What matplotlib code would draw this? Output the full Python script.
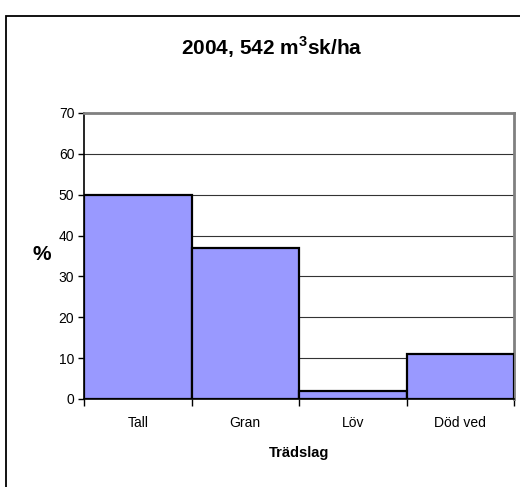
import matplotlib
matplotlib.use("Agg")
import matplotlib.pyplot as plt
from matplotlib.patches import Rectangle

plt.rcParams['font.family'] = ['Liberation Sans', 'DejaVu Sans']
plt.rcParams['mathtext.fontset'] = 'custom'
plt.rcParams['mathtext.rm'] = 'Liberation Sans'
plt.rcParams['mathtext.bf'] = 'Liberation Sans:bold'

categories = ["Tall", "Gran", "Löv", "Död ved"]
shares = [50, 37, 2, 11]
yticks = [0, 10, 20, 30, 40, 50, 60, 70]

fig = plt.figure(figsize=(5.2, 4.87), dpi=100)
ax = fig.add_axes([84/520, 1-399/487, 430/520, 286/487])

x = list(range(len(categories)))
ax.bar(x, shares, width=1.0, color="#9999FF", edgecolor="black",
       linewidth=1.6, zorder=3)

ax.set_xlim(-0.5, len(categories) - 0.5)
ax.set_ylim(0, 70)
ax.set_yticks(yticks)
ax.set_xticks(x)
ax.set_xticklabels(categories, fontsize=10)
ax.set_xticks([i - 0.5 for i in range(len(categories) + 1)], minor=True)
ax.tick_params(axis='x', which='major', length=0, pad=12)
ax.tick_params(axis='x', which='minor', length=5, width=1, direction='out', color='black')
ax.tick_params(axis='y', length=4, width=1, direction='out', pad=3, labelsize=10)

ax.yaxis.grid(True, color='#333333', linewidth=0.8, zorder=0)
ax.set_axisbelow(True)

for side in ('top', 'right'):
    ax.spines[side].set_color('#808080')
    ax.spines[side].set_linewidth(2)
ax.spines['left'].set_color('black')
ax.spines['left'].set_linewidth(1.2)
ax.spines['bottom'].set_color('black')
ax.spines['bottom'].set_linewidth(1.2)
ax.spines['bottom'].set_zorder(4)

fig.text(272/520, 1-47/487, r"2004, 542 m$^{\mathbf{3}}$sk/ha",
         ha='center', va='center', fontsize=15, fontweight='bold')
fig.text(42/520, 1-255/487, "%", ha='center', va='center',
         fontsize=15, fontweight='bold')
fig.text(299/520, 1-453/487, "Trädslag", ha='center', va='center',
         fontsize=10.5, fontweight='bold')

fig.patches.append(Rectangle((6/520, -0.2), 1.2, 0.2 + 1 - 16/487,
                             transform=fig.transFigure, fill=False,
                             edgecolor='black', linewidth=1.3))

fig.savefig("out.png", dpi=100)
